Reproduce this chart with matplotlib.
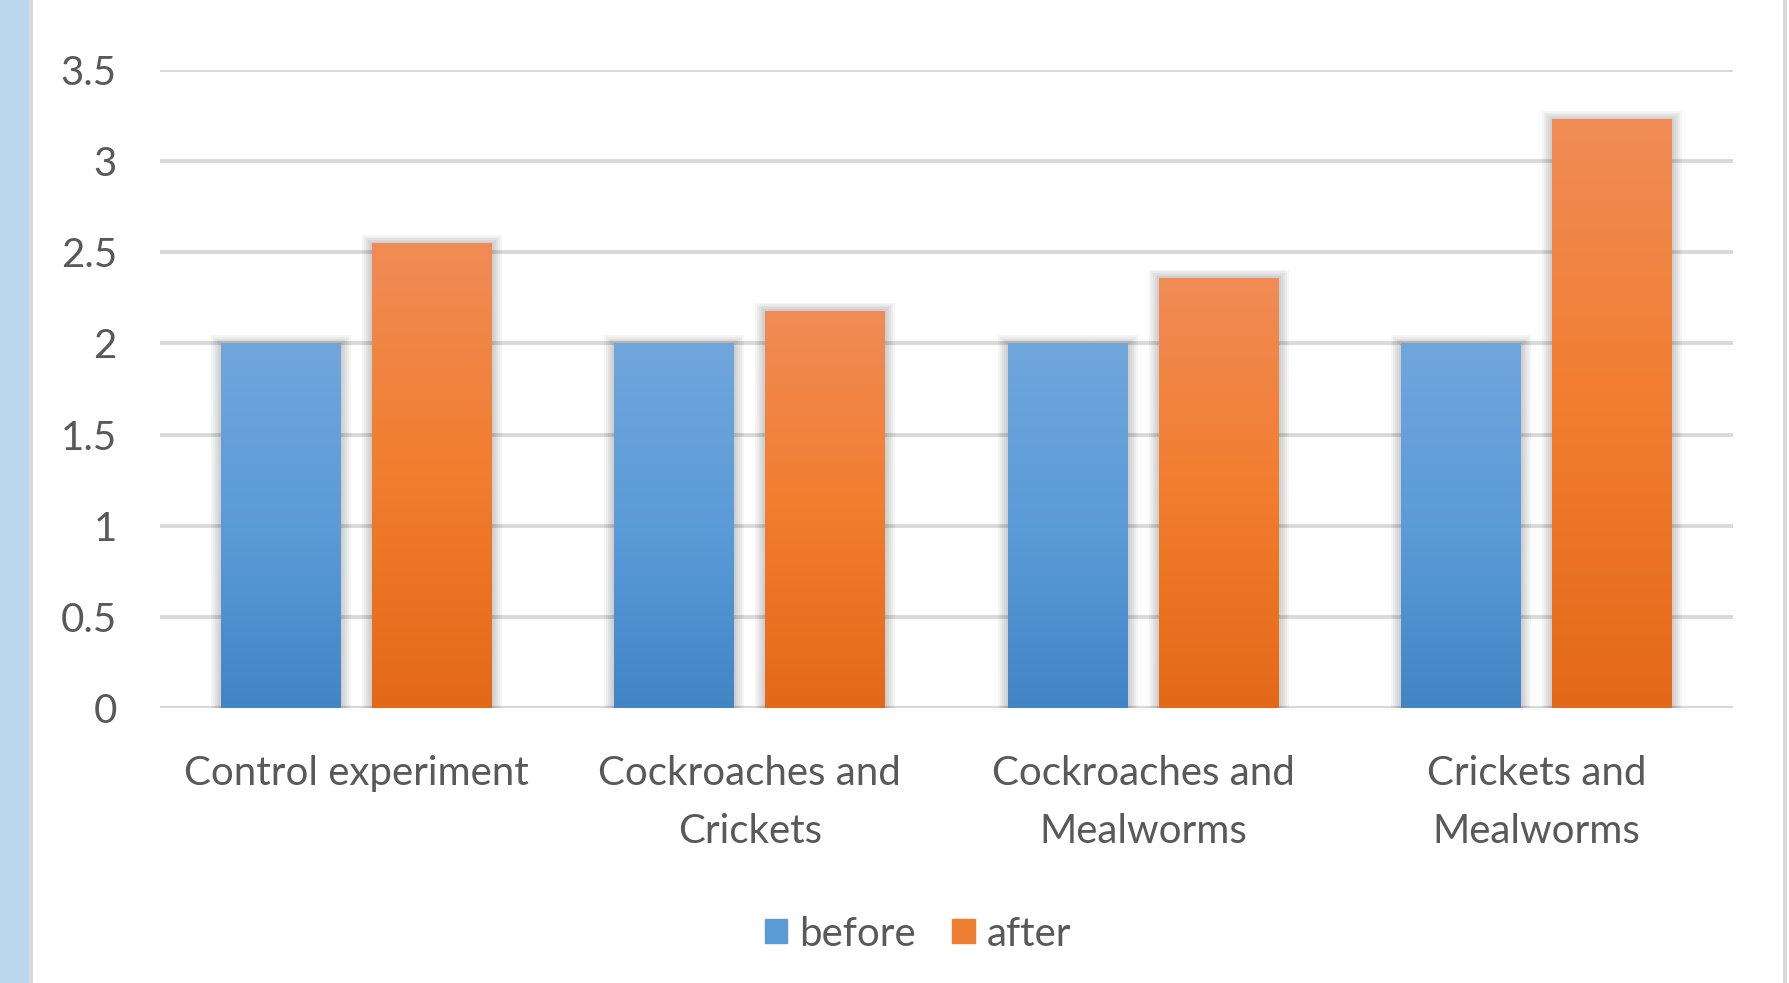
import matplotlib.pyplot as plt
import matplotlib.patches as mpatches
import numpy as np
from matplotlib.colors import LinearSegmentedColormap

# data
categories = ["Control experiment", "Cockroaches and\nCrickets",
              "Cockroaches and\nMealworms", "Crickets and\nMealworms"]
before = [2, 2, 2, 2]
after = [2.55, 2.18, 2.36, 3.23]
yticks = [0, 0.5, 1, 1.5, 2, 2.5, 3, 3.5]
ytick_labels = ["0", "0.5", "1", "1.5", "2", "2.5", "3", "3.5"]

plt.rcParams['font.family'] = ['Lato', 'DejaVu Sans']

fig = plt.figure(figsize=(17.9, 9.83), dpi=100)
fig.patch.set_facecolor('white')

# light blue strip on the left and thin grey borders
fig.add_artist(mpatches.Rectangle((0, 0), 29/1790, 1, transform=fig.transFigure,
                                  facecolor='#bdd7ee', edgecolor='none'))
fig.add_artist(mpatches.Rectangle((29/1790, 0), 4/1790, 1, transform=fig.transFigure,
                                  facecolor='#d9d9d9', edgecolor='none'))
fig.add_artist(mpatches.Rectangle((1783/1790, 0), 4/1790, 1, transform=fig.transFigure,
                                  facecolor='#d9d9d9', edgecolor='none'))

ax = fig.add_axes([160/1790, 1 - 708/983, (1733 - 160)/1790, (708 - 70)/983])

x = np.arange(len(categories))
w = 0.305
off = 0.192

blue_cmap = LinearSegmentedColormap.from_list('b', ['#4285c5', '#5b9bd8', '#70a6dc'])
orange_cmap = LinearSegmentedColormap.from_list('o', ['#e36918', '#f27d2e', '#f08c56'])

def draw_bars(xs, vals, cmap, color):
    bars = ax.bar(xs, vals, width=w, color=color, zorder=3)
    grad = np.linspace(0, 1, 256).reshape(-1, 1)
    for b in bars:
        x0, y0 = b.get_x(), b.get_y()
        bw, bh = b.get_width(), b.get_height()
        # soft shadow
        for k in range(1, 6):
            dx = k * 2.0 / 393
            dy = k * 1.6 / 182.6
            ax.add_patch(mpatches.Rectangle((x0 - dx, 0), bw + 2*dx, bh + dy,
                                            facecolor='#000000', alpha=0.04,
                                            edgecolor='none', zorder=2))
        im = ax.imshow(grad, cmap=cmap, origin='lower', aspect='auto',
                       extent=[x0, x0 + bw, y0, y0 + bh], zorder=4)
        im.set_clip_path(b)
    return bars

bars_before = draw_bars(x - off, before, blue_cmap, '#5b9bd5')
bars_after = draw_bars(x + off, after, orange_cmap, '#ed7d31')

ax.set_xlim(-0.5, len(categories) - 0.5)
ax.set_ylim(0, 3.5)
ax.set_yticks(yticks)
ax.set_yticklabels(ytick_labels)
ax.set_xticks(x)
ax.set_xticklabels(categories, linespacing=1.68)

ax.yaxis.grid(True, color='#d9d9d9', linewidth=2.8, zorder=0)
ax.set_axisbelow(True)
for s in ['top', 'right', 'left', 'bottom']:
    ax.spines[s].set_visible(False)
ax.axhline(0, color='#d9d9d9', linewidth=3, zorder=1)
ax.tick_params(axis='both', length=0, labelsize=29, colors='#595959')
ax.tick_params(axis='y', pad=31)
ax.tick_params(axis='x', pad=34)

handles = [mpatches.Patch(color='#5b9bd5', label='before'),
           mpatches.Patch(color='#ed7d31', label='after')]
fig.legend(handles=handles, loc='center', bbox_to_anchor=(0.513, 1 - 934/983),
           ncol=2, frameon=False, fontsize=29, labelcolor='#595959',
           handlelength=0.55, handleheight=0.55, handletextpad=0.3,
           columnspacing=0.9)

fig.savefig('out.png', dpi=100)
